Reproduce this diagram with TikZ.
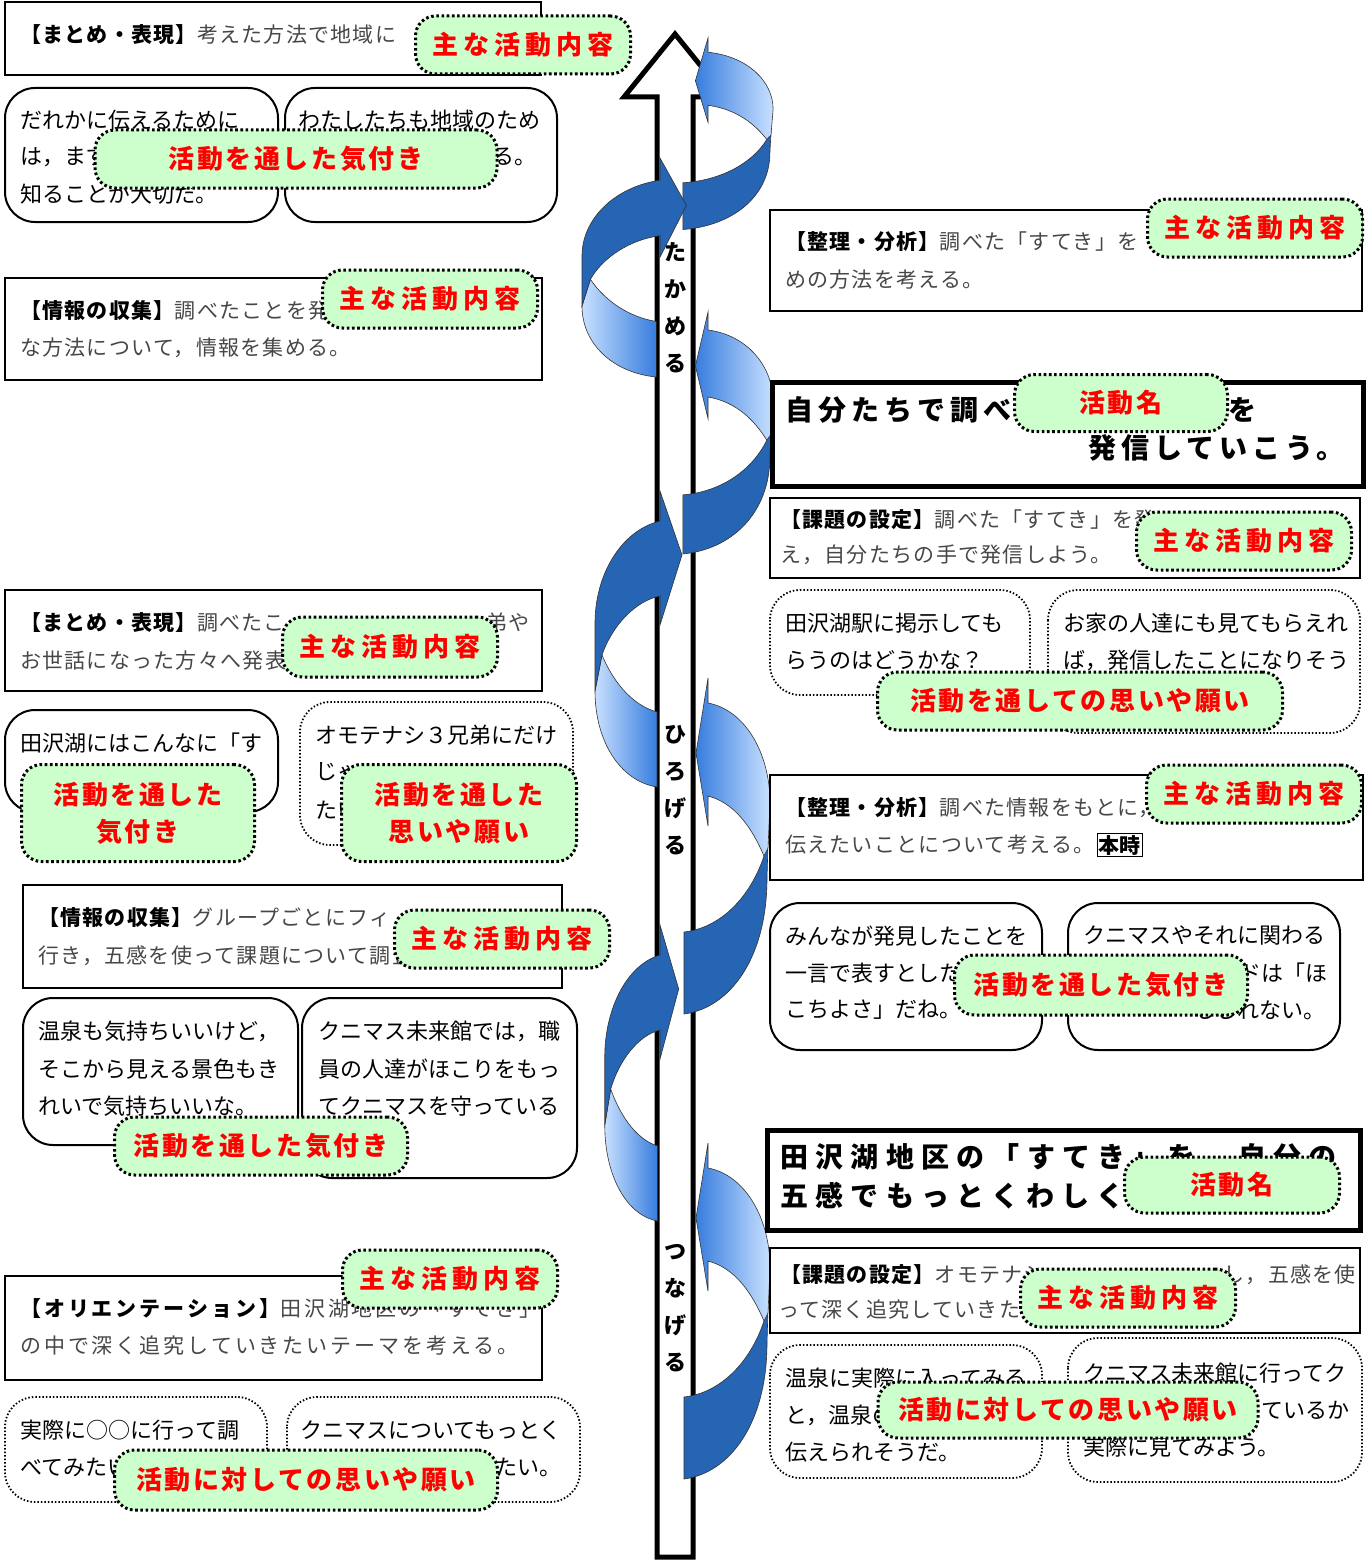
\documentclass[tikz,border=0pt]{standalone}
\usepackage{fontspec}
\setmainfont{Noto Sans CJK JP}
\newfontfamily\memofont[LetterSpace=6]{Noto Sans CJK JP}
\newfontfamily\tagfont[LetterSpace=10]{Noto Sans CJK JP}
\newfontfamily\maintagfont[LetterSpace=20]{Noto Sans CJK JP}
\newfontfamily\headfont[LetterSpace=18]{Noto Sans CJK JP}
\newfontfamily\headwidefont[LetterSpace=26]{Noto Sans CJK JP}
\usetikzlibrary{positioning}

\definecolor{swirldark}{RGB}{38,100,180}
\definecolor{swirlmid}{RGB}{55,125,222}
\definecolor{swirllight}{RGB}{200,224,255}
\definecolor{notegreen}{RGB}{204,255,204}

\tikzset{
  memobox/.style={draw=black, line width=2.4pt},
  titlebox/.style={draw=black, line width=5pt},
  talkbox/.style={draw=black, line width=2pt, rounded corners=30pt},
  wishbox/.style={draw=black, line width=1.8pt, dash pattern=on 1.5pt off 2pt, rounded corners=30pt},
  notetag/.style={fill=notegreen, draw=black, line width=3pt, dash pattern=on 2.6pt off 2.6pt,
    rounded corners=20pt, inner sep=0pt, text=red, font=\tagfont\bfseries\fontsize{26}{37}\selectfont},
  maintag/.style={notetag, minimum width=215, minimum height=58, font=\maintagfont\bfseries\fontsize{26}{30}\selectfont},
  memo/.style={anchor=west, inner sep=0pt, text=black!72, font=\memofont\fontsize{21}{24}\selectfont},
  widememo/.style={memo, font=\memofont\fontsize{21}{24}\selectfont\addfontfeature{LetterSpace=14}},
  talk/.style={anchor=west, inner sep=0pt, font=\fontsize{22}{26}\selectfont},
  heading/.style={anchor=west, inner sep=0pt, font=\headfont\bfseries\fontsize{28}{34}\selectfont},
  wideheading/.style={anchor=west, inner sep=0pt, font=\headwidefont\bfseries\fontsize{28}{34}\selectfont},
  shafttext/.style={align=center, inner sep=0pt, font=\bfseries\fontsize{22}{37}\selectfont},
  swirl dark/.style={fill=swirldark, draw=black!80, line width=0.6pt},
  swirl light/.style={draw=black!80, line width=0.6pt},
}

% ribbon turn on the right of the shaft: #1 top, #2 yscale, #3 xscale
\newcommand{\swirlR}[3]{%
  \begin{scope}[shift={(708,#1)}, yscale=#2, xscale=#3]
    \path[swirl dark] (60,165) -- (59,200) .. controls (59,280) and (22,330) .. (-24,336)
      -- (-24,254) .. controls (12,250) and (42,220) .. (56,178) -- cycle;
    \path[swirl light, left color=swirlmid, right color=swirllight] (0,25) .. controls (37,32) and (62,75) .. (62,125)
      -- (60,170) -- (56,178) .. controls (44,150) and (27,125) .. (0,118) -- (0,148) -- (-12,75) -- (0,0) -- cycle;
  \end{scope}}

% ribbon turn on the left of the shaft
\newcommand{\swirlL}[3]{%
  \begin{scope}[shift={(660,#1)}, yscale=#2, xscale=#3]
    \path[swirl light, left color=swirllight, right color=swirlmid] (-58,164) .. controls (-45,195) and (-25,215) .. (-3,221)
      -- (-3,296) .. controls (-40,290) and (-65,250) .. (-65,200) -- cycle;
    \path[swirl dark] (0,30) .. controls (-40,40) and (-65,85) .. (-65,132) -- (-65,200)
      -- (-58,164) .. controls (-48,135) and (-25,110) .. (0,105) -- (0,134) -- (22,64) -- (0,0) -- cycle;
  \end{scope}}

\begin{document}
\begin{tikzpicture}[x=1pt, y=-1pt]
  \useasboundingbox (0,0) rectangle (1367,1560);

  % the big arrow in the middle
  \draw[line width=5pt, fill=white] (657,1557) -- (657,97) -- (624,97) -- (675,34) -- (726,97)
    -- (693,97) -- (693,1557) -- cycle;

  % blue ribbon winding round it
  \swirlR{38}{0.57}{1.05}
  \swirlL{158}{0.74}{1.2}
  \swirlR{312}{0.72}{1.05}
  \swirlL{491}{1}{1}
  \swirlR{678}{1}{1}
  \swirlL{925}{1}{0.85}
  \swirlR{1143}{1}{1}

  \node[shafttext] (tier1) at (675,308) {た\\か\\め\\る};
  \node[shafttext] (tier2) at (675,790) {ひ\\ろ\\げ\\る};
  \node[shafttext] (tier3) at (675,1308) {つ\\な\\げ\\る};

  % ---- left column ----
  \draw[memobox] (5,2) rectangle (541,75);
  \node[memo] (matome1) at (20,35) {\textcolor{black}{\bfseries 【まとめ・表現】}考えた方法で地域に};

  \draw[talkbox] (5,88) rectangle (278,222);
  \draw[talkbox] (285,88) rectangle (557,222);
  \node[talk] (tell1) at (20,120) {だれかに伝えるために};
  \node[talk] (tell2) at (20,157) {は，まず};
  \node[talk] (tell3) at (20,194) {知ることが大切だ。};
  \node[talk] (local1) at (298,120) {わたしたちも地域のため};
  \node[talk, anchor=east] (local2) at (537,157) {る。};

  \draw[memobox] (5,278) rectangle (542,380);
  \node[memo] (joho1) at (20,311) {\textcolor{black}{\bfseries 【情報の収集】}調べたことを発};
  \node[memo] (joho2) at (20,348) {な方法について，情報を集める。};

  \draw[memobox] (5,590) rectangle (542,691);
  \node[memo] (matome2) at (20,623) {\textcolor{black}{\bfseries 【まとめ・表現】}調べたこ};
  \node[memo, anchor=east] (matome3) at (530,623) {弟や};
  \node[memo] (matome4) at (20,661) {お世話になった方々へ発表};

  \draw[talkbox] (5,710) rectangle (278,812);
  \node[talk] (suteki1) at (20,743) {田沢湖にはこんなに「す};
  \draw[wishbox] (300,702) rectangle (573,845);
  \node[talk] (omote1) at (315,735) {オモテナシ３兄弟にだけ};
  \node[talk] (omote2) at (315,772) {じゃ};
  \node[talk] (omote3) at (315,810) {たい};

  \draw[memobox] (23,885) rectangle (562,988);
  \node[memo] (joho3) at (38,918) {\textcolor{black}{\bfseries 【情報の収集】}グループごとにフィ};
  \node[memo] (joho4) at (38,956) {行き，五感を使って課題について調査};

  \draw[talkbox] (23,998) rectangle (298,1145);
  \draw[talkbox] (302,998) rectangle (577,1178);
  \node[talk] (onsen1) at (38,1031) {温泉も気持ちいいけど，};
  \node[talk] (onsen2) at (38,1069) {そこから見える景色もき};
  \node[talk] (onsen3) at (38,1106) {れいで気持ちいいな。};
  \node[talk] (mirai1) at (318,1031) {クニマス未来館では，職};
  \node[talk] (mirai2) at (318,1069) {員の人達がほこりをもっ};
  \node[talk] (mirai3) at (318,1106) {てクニマスを守っている};

  \draw[memobox] (5,1276) rectangle (542,1380);
  \node[widememo] (orien1) at (20,1309) {\textcolor{black}{\bfseries 【オリエンテーション】}田沢湖地区の「すてき」};
  \node[widememo] (orien2) at (20,1346) {の中で深く追究していきたいテーマを考える。};

  \draw[wishbox] (5,1397) rectangle (267,1502);
  \draw[wishbox] (287,1397) rectangle (580,1502);
  \node[talk] (visit1) at (20,1430) {実際に○○に行って調};
  \node[talk] (visit2) at (20,1467) {べてみたい};
  \node[talk] (fish1) at (300,1430) {クニマスについてもっとく};
  \node[talk, anchor=east] (fish2) at (562,1467) {たい。};

  % ---- right column ----
  \draw[memobox] (770,210) rectangle (1362,311);
  \node[memo] (seiri1) at (785,242) {\textcolor{black}{\bfseries 【整理・分析】}調べた「すてき」を};
  \node[memo] (seiri2) at (785,280) {めの方法を考える。};

  \draw[titlebox] (772,382) rectangle (1363,486);
  \node[heading] (name1) at (785,410) {自分たちで調べ};
  \node[heading] (name2) at (1228,410) {を};
  \node[heading, anchor=east] (name3) at (1345,448) {発信していこう。};

  \draw[memobox] (770,498) rectangle (1360,578);
  \node[memo] (kadai1) at (780,520) {\textcolor{black}{\bfseries 【課題の設定】}調べた「すてき」を発};
  \node[memo] (kadai2) at (780,555) {え，自分たちの手で発信しよう。};

  \draw[wishbox] (770,590) rectangle (1030,695);
  \draw[wishbox] (1048,590) rectangle (1360,733);
  \node[talk] (eki1) at (785,623) {田沢湖駅に掲示しても};
  \node[talk] (eki2) at (785,660) {らうのはどうかな？};
  \node[talk] (home1) at (1063,623) {お家の人達にも見てもらえれ};
  \node[talk] (home2) at (1063,660) {ば，発信したことになりそう};

  \draw[memobox] (770,775) rectangle (1363,880);
  \node[memo] (seiri3) at (785,808) {\textcolor{black}{\bfseries 【整理・分析】}調べた情報をもとに，};
  \node[memo] (seiri4) at (785,845) {伝えたいことについて考える。};
  \node[draw, line width=1.6pt, inner sep=1.5pt, font=\bfseries\fontsize{21}{24}\selectfont,
    right=2pt of seiri4] (honji) {本時};

  \draw[talkbox] (770,903) rectangle (1042,1050);
  \draw[talkbox] (1068,903) rectangle (1340,1050);
  \node[talk] (word1) at (785,936) {みんなが発見したことを};
  \node[talk] (word2) at (785,973) {一言で表すとした};
  \node[talk] (word3) at (785,1010) {こちよさ」だね。};
  \node[talk] (kuni1) at (1083,936) {クニマスやそれに関わる};
  \node[talk, anchor=east] (kuni2) at (1328,973) {ドは「ほ};
  \node[talk, anchor=east] (kuni3) at (1326,1010) {もしれない。};

  \draw[titlebox] (767,1130) rectangle (1360,1230);
  \node[wideheading] (name4) at (780,1158) {田沢湖地区の「すてき」を，自分の};
  \node[wideheading] (name5) at (780,1196) {五感でもっとくわしく};

  \draw[memobox] (770,1248) rectangle (1360,1333);
  \node[memo] (kadai3) at (780,1275) {\textcolor{black}{\bfseries 【課題の設定】}オモテナシ};
  \node[memo, anchor=east] (kadai4) at (1356,1275) {し，五感を使};
  \node[memo] (kadai5) at (778,1310) {って深く追究していきたい};

  \draw[wishbox] (770,1345) rectangle (1042,1478);
  \draw[wishbox] (1068,1338) rectangle (1362,1482);
  \node[talk] (bath1) at (785,1378) {温泉に実際に入ってみる};
  \node[talk] (bath2) at (785,1415) {と，温泉の};
  \node[talk] (bath3) at (785,1452) {伝えられそうだ。};
  \node[talk] (hall1) at (1083,1373) {クニマス未来館に行ってク};
  \node[talk, anchor=east] (hall2) at (1350,1410) {ているか};
  \node[talk] (hall3) at (1083,1447) {実際に見てみよう。};

  % green labels laid over the boxes
  \node[maintag] (tagA) at (523,45) {主な活動内容};
  \node[notetag, minimum width=402, minimum height=58] (tagB) at (296,159) {活動を通した気付き};
  \node[maintag] (tagC) at (430,299) {主な活動内容};
  \node[maintag, minimum height=60] (tagD) at (390,647) {主な活動内容};
  \node[notetag, align=center, minimum width=233, minimum height=97] (tagE) at (138,813) {活動を通した\\気付き};
  \node[notetag, align=center, minimum width=235, minimum height=97] (tagF) at (459,813) {活動を通した\\思いや願い};
  \node[maintag] (tagG) at (502,939) {主な活動内容};
  \node[notetag, minimum width=293, minimum height=58] (tagH) at (261,1146) {活動を通した気付き};
  \node[maintag] (tagI) at (450,1279) {主な活動内容};
  \node[notetag, minimum width=383, minimum height=60] (tagJ) at (306,1480) {活動に対しての思いや願い};

  \node[maintag] (tagK) at (1255,228) {主な活動内容};
  \node[notetag, minimum width=213, minimum height=57] (tagL) at (1121,403) {活動名};
  \node[maintag] (tagM) at (1244,541) {主な活動内容};
  \node[notetag, minimum width=405, minimum height=58] (tagN) at (1080,701) {活動を通しての思いや願い};
  \node[maintag] (tagO) at (1254,794) {主な活動内容};
  \node[notetag, minimum width=293, minimum height=60] (tagP) at (1101,985) {活動を通した気付き};
  \node[notetag, minimum width=215, minimum height=56] (tagQ) at (1232,1185) {活動名};
  \node[maintag] (tagR) at (1128,1298) {主な活動内容};
  \node[notetag, minimum width=380, minimum height=56] (tagS) at (1068,1410) {活動に対しての思いや願い};
\end{tikzpicture}
\end{document}
